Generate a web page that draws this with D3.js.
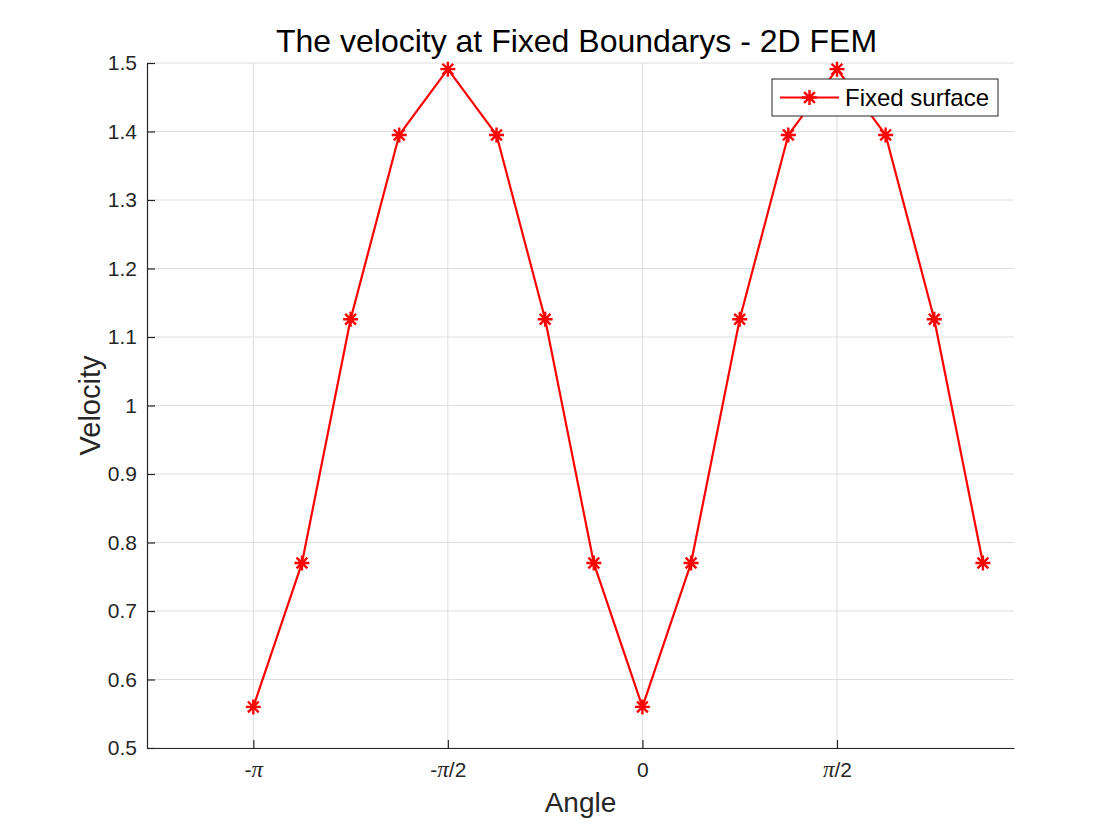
<!DOCTYPE html>
<html>
<head>
<meta charset="utf-8">
<script src="https://cdn.jsdelivr.net/npm/d3@7"></script>
<style>
  body { margin: 0; background: #fff; }
  svg text { font-family: "Liberation Sans", Arial, Helvetica, sans-serif; }
</style>
</head>
<body>
<svg id="chart"></svg>
<script>
// angles in steps of pi/8, from -pi to 7pi/8
const angleSteps = [-8, -7, -6, -5, -4, -3, -2, -1, 0, 1, 2, 3, 4, 5, 6, 7];
const velocity = [0.56, 0.77, 1.126, 1.395, 1.491, 1.395, 1.126, 0.77,
                  0.56, 0.77, 1.126, 1.395, 1.491, 1.395, 1.126, 0.77];
const xTickValues = [-Math.PI, -Math.PI / 2, 0, Math.PI / 2];
// [prefix, has pi, suffix]
const xTickLabels = [["-", true, ""], ["-", true, "/2"], ["0", false, ""], ["", true, "/2"]];
const yTickValues = [0.5, 0.6, 0.7, 0.8, 0.9, 1, 1.1, 1.2, 1.3, 1.4, 1.5];
const seriesName = "Fixed surface";

const w = 1120;
const h = 840;
const padLeft = 147, padRight = 1014, padTop = 63, padBottom = 748;

const svg = d3.select("#chart").attr("width", w).attr("height", h);

const data = angleSteps.map((s, i) => ({ x: s * Math.PI / 8, y: velocity[i] }));

const xScale = d3.scaleLinear().domain([-4, 3]).range([padLeft, padRight]);
const yScale = d3.scaleLinear().domain([0.5, 1.5]).range([padBottom, padTop]);

// grid
svg.append("g")
  .selectAll("line")
  .data(xTickValues)
  .enter()
  .append("line")
  .attr("x1", (d) => xScale(d)).attr("x2", (d) => xScale(d))
  .attr("y1", padTop).attr("y2", padBottom)
  .attr("stroke", "#dedede").attr("stroke-width", 1);

svg.append("g")
  .selectAll("line")
  .data(yTickValues)
  .enter()
  .append("line")
  .attr("x1", padLeft).attr("x2", padRight)
  .attr("y1", (d) => yScale(d)).attr("y2", (d) => yScale(d))
  .attr("stroke", "#dedede").attr("stroke-width", 1);

// axes (ticks pointing inward, MATLAB style)
const xAxis = d3.axisBottom(xScale)
  .tickValues(xTickValues)
  .tickFormat("")
  .tickSizeInner(-8).tickSizeOuter(0);

const yAxis = d3.axisLeft(yScale)
  .tickValues(yTickValues)
  .tickFormat((d) => d3.format("")(d))
  .tickSizeInner(-8).tickSizeOuter(0).tickPadding(10);

const gx = svg.append("g").attr("transform", `translate(0, ${padBottom})`).call(xAxis);
const gy = svg.append("g").attr("transform", `translate(${padLeft}, 0)`).call(yAxis);

[gx, gy].forEach((g) => {
  g.select(".domain").attr("stroke", "#262626").attr("stroke-width", 1.2);
  g.selectAll(".tick line").attr("stroke", "#262626").attr("stroke-width", 1.2);
  g.selectAll(".tick text").attr("fill", "#262626").style("font-size", "21px");
});

// x tick labels with a math-style pi
gx.selectAll(".tick text")
  .attr("y", 29).attr("dy", null)
  .each(function (d, i) {
    const [pre, pi, post] = xTickLabels[i];
    const t = d3.select(this);
    t.text(null);
    if (pre) t.append("tspan").text(pre);
    if (pi) t.append("tspan").style("font-family", "'Liberation Serif', 'Times New Roman', serif")
      .style("font-style", "italic").style("font-size", "23px").text("π");
    if (post) t.append("tspan").text(post);
  });

// line
const line = d3.line().x((d) => xScale(d.x)).y((d) => yScale(d.y));
svg.append("path")
  .datum(data)
  .attr("d", line)
  .attr("fill", "none")
  .attr("stroke", "#ff0000")
  .attr("stroke-width", 2.2)
  .attr("stroke-linejoin", "round");

// asterisk markers
const r = 7.5;
const starPath = (cx, cy) => {
  const d = r * 0.72;
  return `M${cx - r},${cy}L${cx + r},${cy}M${cx},${cy - r}L${cx},${cy + r}` +
    `M${cx - d},${cy - d}L${cx + d},${cy + d}M${cx - d},${cy + d}L${cx + d},${cy - d}`;
};

svg.append("g")
  .selectAll("path")
  .data(data)
  .enter()
  .append("path")
  .attr("d", (d) => starPath(xScale(d.x), yScale(d.y)))
  .attr("stroke", "#ff0000")
  .attr("stroke-width", 2.4)
  .attr("fill", "none");

// legend
const legend = svg.append("g");
legend.append("rect")
  .attr("x", 772).attr("y", 79).attr("width", 226).attr("height", 37)
  .attr("fill", "#fff").attr("stroke", "#262626").attr("stroke-width", 1);
legend.append("line")
  .attr("x1", 780).attr("x2", 839).attr("y1", 97.5).attr("y2", 97.5)
  .attr("stroke", "#ff0000").attr("stroke-width", 2.2);
legend.append("path")
  .attr("d", starPath(809.5, 97.5))
  .attr("stroke", "#ff0000").attr("stroke-width", 2.4).attr("fill", "none");
legend.append("text")
  .attr("x", 845).attr("y", 98).attr("dy", "0.35em")
  .attr("fill", "#000").style("font-size", "24px")
  .text(seriesName);

// title and axis labels
svg.append("text")
  .attr("x", (padLeft + padRight) / 2 - 4).attr("y", 52)
  .attr("text-anchor", "middle")
  .attr("fill", "#000").style("font-size", "32px")
  .text("The velocity at Fixed Boundarys - 2D FEM");

svg.append("text")
  .attr("x", (padLeft + padRight) / 2).attr("y", 812)
  .attr("text-anchor", "middle")
  .attr("fill", "#262626").style("font-size", "28px")
  .text("Angle");

svg.append("text")
  .attr("transform", `translate(100, ${(padTop + padBottom) / 2}) rotate(-90)`)
  .attr("text-anchor", "middle")
  .attr("fill", "#262626").style("font-size", "29px")
  .text("Velocity");
</script>
</body>
</html>
